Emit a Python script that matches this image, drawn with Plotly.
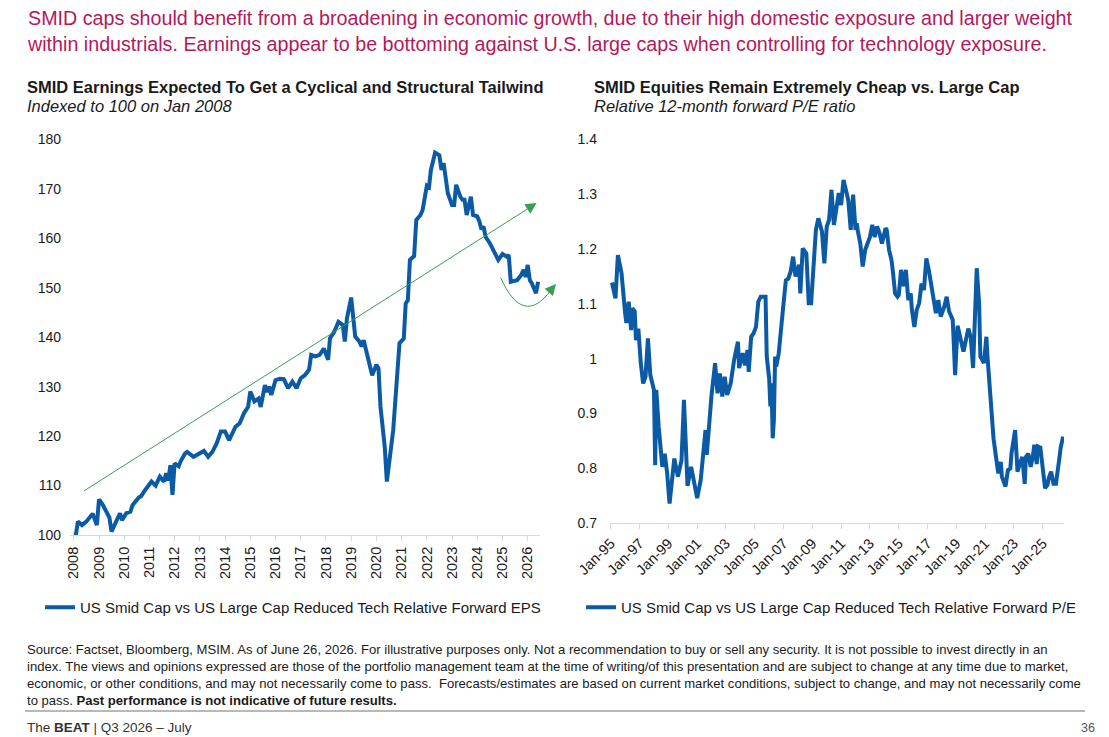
import plotly.graph_objects as go

W, H = 1109, 737

# ---------------- data ----------------
eps_dates = [
    "2008-01", "2008-02", "2008-03", "2008-05", "2008-07", "2008-09", "2008-10", "2008-12",
    "2009-01", "2009-03", "2009-05", "2009-06", "2009-07", "2009-09", "2009-11", "2009-12",
    "2010-02", "2010-04", "2010-05", "2010-08", "2010-09", "2010-11",
    "2011-02", "2011-04", "2011-06", "2011-08", "2011-09", "2011-10", "2011-11", "2011-12",
    "2012-01", "2012-03", "2012-04", "2012-06", "2012-07", "2012-10",
    "2013-01", "2013-03", "2013-05", "2013-07", "2013-09", "2013-11",
    "2014-01", "2014-03", "2014-06", "2014-08", "2014-10", "2014-12",
    "2015-01", "2015-03", "2015-05", "2015-06", "2015-08", "2015-09", "2015-10", "2015-11",
    "2016-01", "2016-03", "2016-05", "2016-07", "2016-09", "2016-11",
    "2017-01", "2017-03", "2017-05", "2017-06", "2017-08", "2017-10", "2017-12",
    "2018-02", "2018-03", "2018-05", "2018-07", "2018-09", "2018-10", "2018-11",
    "2019-01", "2019-02", "2019-03", "2019-05", "2019-06", "2019-07", "2019-09", "2019-11",
    "2020-01", "2020-02", "2020-03", "2020-05", "2020-06", "2020-09", "2020-12",
    "2021-02", "2021-03", "2021-04", "2021-05", "2021-07", "2021-08", "2021-10", "2021-11",
    "2022-01", "2022-02", "2022-03", "2022-05", "2022-07", "2022-08", "2022-09", "2022-11",
    "2023-01", "2023-02", "2023-03", "2023-05", "2023-06", "2023-07", "2023-08", "2023-10", "2023-11",
    "2024-01", "2024-02", "2024-03", "2024-04", "2024-05", "2024-07", "2024-09", "2024-11",
    "2025-01", "2025-03", "2025-04", "2025-05", "2025-08", "2025-10", "2025-11", "2025-12",
    "2026-01", "2026-02", "2026-03", "2026-05", "2026-06",
]
eps_values = [
    100.0, 100.0, 102.7, 102.0, 102.7, 104.0, 104.3, 102.0,
    107.2, 106.0, 104.4, 103.5, 100.7, 102.4, 104.4, 103.0,
    104.4, 104.7, 106.0, 107.6, 107.8, 109.1,
    110.8, 110.0, 111.8, 110.8, 112.5, 111.0, 114.1, 108.1,
    114.5, 113.9, 115.0, 116.5, 116.8, 115.8,
    116.5, 117.0, 115.8, 116.8, 118.5, 120.9,
    120.9, 119.2, 121.9, 122.6, 124.6, 125.9,
    129.0, 127.0, 127.6, 125.9, 130.3, 128.9, 130.0, 128.3,
    131.3, 131.6, 131.5, 129.7, 131.0, 129.7,
    131.7, 132.3, 133.4, 136.4, 136.1, 136.4, 137.7,
    135.4, 139.8, 141.1, 143.1, 142.5, 139.1, 143.8,
    148.0, 144.1, 140.1, 139.1, 138.1, 139.4, 135.7, 132.3,
    134.4, 133.7, 125.9, 117.9, 110.8, 121.2, 138.8,
    139.7, 146.8, 147.5, 155.6, 156.4, 163.7, 164.7, 165.7,
    170.6, 170.3, 173.8, 177.3, 176.8, 173.8, 175.2, 169.1,
    166.7, 166.7, 170.8, 168.4, 167.8, 167.8, 164.7, 168.4, 164.7,
    164.4, 163.4, 161.8, 162.4, 160.3, 159.0, 157.3, 155.6,
    156.8, 156.3, 156.6, 151.2, 151.5, 152.6, 153.6, 152.2,
    154.6, 151.5, 150.9, 148.9, 151.2,
]

pe_dates = [
    "1995-02", "1995-05", "1995-07", "1995-10", "1996-01", "1996-02", "1996-04", "1996-06",
    "1996-07", "1996-09", "1996-10", "1996-12", "1997-02", "1997-04", "1997-06", "1997-08",
    "1997-10", "1998-01", "1998-02", "1998-03", "1998-05", "1998-07", "1998-08", "1998-10",
    "1998-12", "1999-02", "1999-05", "1999-06", "1999-09", "1999-12", "2000-02", "2000-04",
    "2000-05", "2000-08", "2000-11", "2001-01", "2001-04", "2001-06", "2001-08", "2001-09",
    "2001-12", "2002-01", "2002-04", "2002-06", "2002-08", "2002-10", "2002-12", "2003-02",
    "2003-05", "2003-08", "2003-11", "2003-12", "2004-03", "2004-05", "2004-07", "2004-08",
    "2004-10", "2004-12", "2005-02", "2005-04", "2005-06", "2005-10", "2005-11", "2006-01",
    "2006-02", "2006-03", "2006-04", "2006-05", "2006-06", "2006-07", "2006-09", "2006-11",
    "2007-01", "2007-03", "2007-05", "2007-07", "2007-09", "2007-11", "2008-02", "2008-03",
    "2008-05", "2008-08", "2008-10", "2008-12", "2009-02", "2009-04", "2009-06", "2009-09",
    "2009-11", "2010-01", "2010-03", "2010-05", "2010-07", "2010-09", "2010-11", "2011-01",
    "2011-03", "2011-05", "2011-07", "2011-09", "2011-11", "2012-01", "2012-02", "2012-03",
    "2012-05", "2012-07", "2012-09", "2013-01", "2013-03", "2013-05", "2013-07", "2013-09",
    "2013-11", "2014-02", "2014-03", "2014-05", "2014-07", "2014-08", "2014-10", "2014-12",
    "2015-01", "2015-03", "2015-05", "2015-07", "2015-09", "2015-11", "2015-12", "2016-02",
    "2016-04", "2016-06", "2016-08", "2016-10", "2016-12", "2017-02", "2017-04", "2017-06",
    "2017-08", "2017-10", "2017-12", "2018-03", "2018-05", "2018-07", "2018-10", "2018-11",
    "2018-12", "2019-02", "2019-04", "2019-07", "2019-11", "2020-01", "2020-03", "2020-06",
    "2020-08", "2020-09", "2020-12", "2021-02", "2021-03", "2021-05", "2021-07", "2021-08",
    "2021-10", "2021-12", "2022-02", "2022-03", "2022-06", "2022-08", "2022-10", "2022-11",
    "2023-02", "2023-03", "2023-04", "2023-06", "2023-08", "2023-10", "2023-11", "2024-01",
    "2024-03", "2024-05", "2024-06", "2024-08", "2024-09", "2024-11", "2025-01", "2025-03",
    "2025-05", "2025-06", "2025-08", "2025-10", "2025-12", "2026-02", "2026-03", "2026-04",
    "2026-06",
]
pe_values = [
    1.139, 1.110, 1.189, 1.156, 1.083, 1.065, 1.104, 1.052,
    1.092, 1.086, 1.034, 1.055, 0.992, 0.955, 0.967, 1.037,
    0.970, 0.943, 0.806, 0.943, 0.876, 0.825, 0.803, 0.827,
    0.792, 0.736, 0.792, 0.818, 0.785, 0.815, 0.925, 0.792,
    0.768, 0.803, 0.768, 0.746, 0.779, 0.834, 0.870, 0.825,
    0.913, 0.934, 0.992, 0.937, 0.973, 0.931, 0.967, 0.934,
    0.955, 1.000, 1.031, 0.983, 1.010, 0.988, 1.016, 0.976,
    1.040, 1.046, 1.058, 1.104, 1.113, 1.113, 1.004, 0.964,
    0.913, 0.955, 0.855, 0.888, 1.004, 0.986, 1.010, 1.065,
    1.101, 1.143, 1.146, 1.159, 1.186, 1.150, 1.171, 1.119,
    1.201, 1.192, 1.101, 1.101, 1.162, 1.235, 1.256, 1.232,
    1.174, 1.241, 1.253, 1.308, 1.244, 1.271, 1.302, 1.280,
    1.326, 1.308, 1.289, 1.235, 1.299, 1.235, 1.247, 1.232,
    1.210, 1.168, 1.198, 1.222, 1.244, 1.222, 1.241, 1.229,
    1.210, 1.238, 1.235, 1.198, 1.180, 1.162, 1.119, 1.113,
    1.116, 1.162, 1.132, 1.162, 1.107, 1.119, 1.089, 1.058,
    1.089, 1.101, 1.137, 1.125, 1.183, 1.162, 1.137, 1.113,
    1.083, 1.107, 1.077, 1.095, 1.113, 1.086, 1.071, 1.022,
    0.970, 1.060, 1.040, 1.013, 1.055, 1.040, 0.983, 1.165,
    1.101, 1.004, 0.992, 1.040, 1.004, 0.943, 0.888, 0.855,
    0.822, 0.791, 0.812, 0.785, 0.767, 0.797, 0.800, 0.828,
    0.870, 0.809, 0.794, 0.809, 0.821, 0.772, 0.821, 0.827,
    0.803, 0.825, 0.843, 0.808, 0.840, 0.838, 0.805, 0.764,
    0.770, 0.782, 0.794, 0.772, 0.772, 0.815, 0.820, 0.838,
    0.858,
]

eps_name = "US Smid Cap vs US Large Cap Reduced Tech Relative Forward EPS"
pe_name = "US Smid Cap vs US Large Cap Reduced Tech Relative Forward P/E"

eps_yticks = [100, 110, 120, 130, 140, 150, 160, 170, 180]
pe_yticks = [0.7, 0.8, 0.9, 1.0, 1.1, 1.2, 1.3, 1.4]

# trend arrow (data units)
trend_start_date, trend_start_val = "2008-05-10", 108.75
trend_end_date, trend_end_val = "2026-05-10", 167.1

# ---------------- styling helpers ----------------
FONT = "Liberation Sans, Arial, sans-serif"
BLUE = "#0b5aa5"
GREEN = "#34a050"
TXT = "#1a1a1a"


def px_x(p):
    return p / W


def px_y(p):
    return 1 - p / H


fig = go.Figure()
fig.add_trace(go.Scatter(x=eps_dates, y=eps_values, mode="lines", name=eps_name,
                         line=dict(color=BLUE, width=4), xaxis="x", yaxis="y",
                         legend="legend", showlegend=True))
fig.add_trace(go.Scatter(x=pe_dates, y=pe_values, mode="lines", name=pe_name,
                         line=dict(color=BLUE, width=4), xaxis="x2", yaxis="y2",
                         legend="legend2", showlegend=True))

xcommon = dict(showgrid=False, zeroline=False, showline=True, linecolor="#d9d9d9",
               linewidth=1, ticks="outside", ticklen=5, tickcolor="#d9d9d9",
               automargin=False,
               tickfont=dict(family=FONT, size=14.5, color=TXT))
ycommon = dict(showgrid=False, zeroline=False, showline=False, ticks="",
               automargin=False,
               tickfont=dict(family=FONT, size=14, color=TXT))

legend_common = dict(xanchor="left", yanchor="top", orientation="h",
                     bgcolor="rgba(0,0,0,0)", visible=True,
                     font=dict(family=FONT, size=15, color=TXT))

fig.update_layout(
    template="none",
    width=W, height=H,
    margin=dict(l=0, r=0, t=0, b=0, autoexpand=False),
    showlegend=True,
    paper_bgcolor="white", plot_bgcolor="white",
    xaxis=dict(domain=[px_x(70), px_x(540)], range=["2007-11-08", "2026-06-28"],
               type="date", tick0="2008-01-01", dtick="M12", tickformat="%Y",
               tickangle=-90, anchor="y", **xcommon),
    yaxis=dict(domain=[px_y(535), px_y(139.3)], range=[100, 180],
               tickvals=eps_yticks, ticklabelstandoff=8, anchor="x", **ycommon),
    xaxis2=dict(domain=[px_x(610), px_x(1064)], range=["1994-12-13", "2026-06-24"],
                type="date", tick0="1995-01-01", dtick="M24", tickformat="%b-%y",
                tickangle=-45, anchor="y2", **xcommon),
    yaxis2=dict(domain=[px_y(523.3), px_y(139.3)], range=[0.7, 1.4],
                tickvals=pe_yticks, ticktext=[f"{v:g}" for v in pe_yticks],
                ticklabelstandoff=12, anchor="x2", **ycommon),
    legend=dict(x=px_x(40), y=px_y(591), **legend_common),
    legend2=dict(x=px_x(581), y=px_y(591), **legend_common),
)

ann = []
# Headline
ann.append(dict(xref="paper", yref="paper", x=px_x(25), y=px_y(5), xanchor="left",
                yanchor="top", align="left", showarrow=False,
                text="SMID caps should benefit from a broadening in economic growth, due to their high domestic exposure and larger weight<br>"
                     "within industrials. Earnings appear to be bottoming against U.S. large caps when controlling for technology exposure.",
                font=dict(family=FONT, size=19.7, color="#b4185c")))
# chart titles
for xp, t, s in [(25, "SMID Earnings Expected To Get a Cyclical and Structural Tailwind", "Indexed to 100 on Jan 2008"),
                 (592, "SMID Equities Remain Extremely Cheap vs. Large Cap", "Relative 12-month forward P/E ratio")]:
    ann.append(dict(xref="paper", yref="paper", x=px_x(xp), y=px_y(87), xanchor="left",
                    yanchor="middle", showarrow=False, text=f"<b>{t}</b>",
                    font=dict(family=FONT, size=16.5, color=TXT)))
    ann.append(dict(xref="paper", yref="paper", x=px_x(xp), y=px_y(106), xanchor="left",
                    yanchor="middle", showarrow=False, text=f"<i>{s}</i>",
                    font=dict(family=FONT, size=16.5, color=TXT)))

# trend arrow
ann.append(dict(xref="x", yref="y", axref="x", ayref="y",
                x=trend_end_date, y=trend_end_val, ax=trend_start_date, ay=trend_start_val,
                showarrow=True, arrowhead=2, arrowsize=2.2, arrowwidth=1,
                arrowcolor=GREEN, text=""))
# smile arrowhead
ann.append(dict(xref="paper", yref="paper", x=px_x(556), y=px_y(284), ax=-7, ay=8,
                showarrow=True, arrowhead=2, arrowsize=2.2, arrowwidth=1,
                arrowcolor=GREEN, text=""))

# Source
ann.append(dict(xref="paper", yref="paper", x=px_x(25), y=px_y(640), xanchor="left",
                yanchor="top", align="left", showarrow=False,
                text="Source: Factset, Bloomberg, MSIM. As of June 26, 2026. For illustrative purposes only. Not a recommendation to buy or sell any security. It is not possible to invest directly in an<br>"
                     "index. The views and opinions expressed are those of the portfolio management team at the time of writing/of this presentation and are subject to change at any time due to market,<br>"
                     "economic, or other conditions, and may not necessarily come to pass.  Forecasts/estimates are based on current market conditions, subject to change, and may not necessarily come<br>"
                     "to pass. <b>Past performance is not indicative of future results.</b>",
                font=dict(family=FONT, size=13.1, color=TXT)))
ann.append(dict(xref="paper", yref="paper", x=px_x(25), y=px_y(727), xanchor="left",
                yanchor="middle", showarrow=False,
                text="The <b>BEAT</b> | Q3 2026 \u2013 July",
                font=dict(family=FONT, size=13.5, color="#333333")))
ann.append(dict(xref="paper", yref="paper", x=px_x(1097), y=px_y(728), xanchor="right",
                yanchor="middle", showarrow=False, text="36",
                font=dict(family=FONT, size=12.5, color="#555555")))

fig.update_layout(annotations=ann)

# smile curve (decoration)
p0 = (500.7, 277.7)
c1 = (515, 310)
c2 = (532, 316)
p3 = (551, 290)
path = (f"M {px_x(p0[0])},{px_y(p0[1])} C {px_x(c1[0])},{px_y(c1[1])} "
        f"{px_x(c2[0])},{px_y(c2[1])} {px_x(p3[0])},{px_y(p3[1])}")
fig.add_shape(type="path", path=path, xref="paper", yref="paper",
              line=dict(color=GREEN, width=1))
# footer rule
fig.add_shape(type="line", xref="paper", yref="paper", x0=px_x(25), x1=px_x(1085),
              y0=px_y(711), y1=px_y(711), line=dict(color="#a0a0a0", width=1.5))

fig.write_html("out.html")
